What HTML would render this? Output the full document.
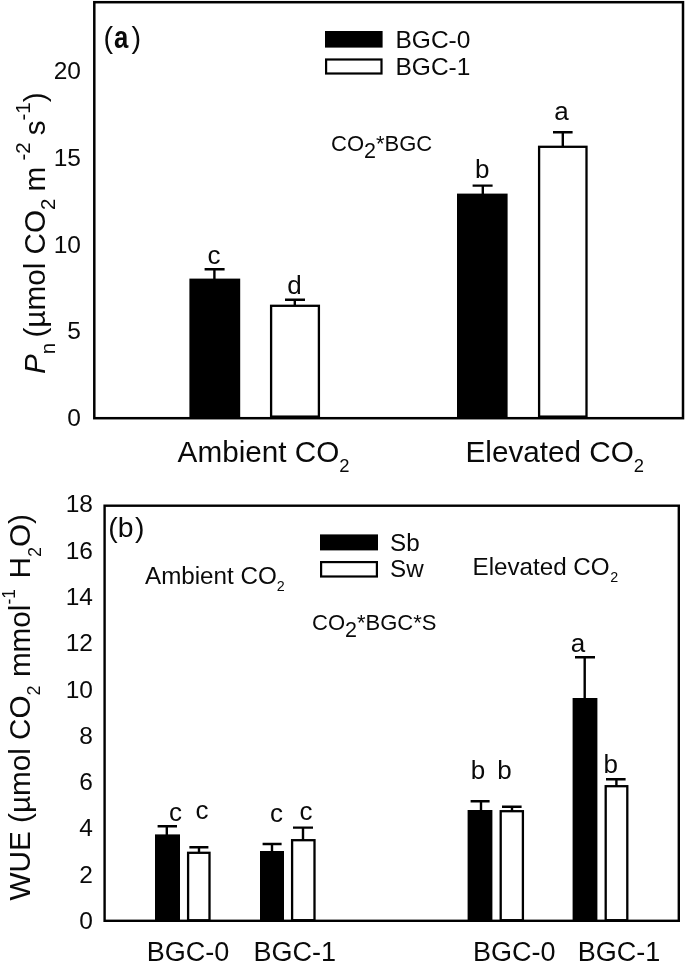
<!DOCTYPE html>
<html>
<head>
<meta charset="utf-8">
<title>Pn and WUE under ambient and elevated CO2</title>
<style>
html,body{margin:0;padding:0;background:#fff;}
body{width:685px;height:963px;overflow:hidden;}
svg{display:block;will-change:transform;filter:blur(0.45px);}
text{font-family:"Liberation Sans",Arial,Helvetica,sans-serif;fill:#0a0a0a;}
.tk{font-size:24.5px;text-anchor:end;}
.lt{font-size:26px;text-anchor:middle;}
.ax{font-size:29.7px;}
.lg{font-size:24.5px;}
.in{font-size:24.2px;}
.st{font-size:22px;}
.bx{font-size:27px;}
.k{fill:#000;stroke:none;}
.w{fill:#fff;stroke:#000;stroke-width:2.3;}
.l{stroke:#000;stroke-width:2.4;fill:none;}
</style>
</head>
<body>
<svg width="685" height="963" viewBox="0 0 685 963">
<rect x="0" y="0" width="685" height="963" fill="#fff"/>

<!-- ================= panel (a) ================= -->
<g id="pa">
<!-- bars -->
<rect class="k" x="189.4" y="278.6" width="50.8" height="140"/>
<rect class="w" x="271.1" y="305.8" width="47.8" height="110.8"/>
<rect class="k" x="457" y="193.6" width="50.6" height="225"/>
<rect class="w" x="539.1" y="146.8" width="47.4" height="269.8"/>
<!-- error bars -->
<path class="l" d="M204.6 269.3H224.6M214.4 269.3V280"/>
<path class="l" d="M285 299.8H305M294.8 299.8V305"/>
<path class="l" d="M472.6 185.6H492.6M482.8 185.6V195"/>
<path class="l" d="M553 132.2H572.6M562.8 132.2V146"/>
<!-- frame -->
<rect x="94.3" y="2.2" width="588.7" height="416" fill="none" stroke="#000" stroke-width="2.5"/>
<!-- tick labels -->
<text class="tk" x="81" y="79">20</text>
<text class="tk" x="81" y="165.7">15</text>
<text class="tk" x="81" y="252.5">10</text>
<text class="tk" x="81" y="339.2">5</text>
<text class="tk" x="81" y="426">0</text>
<!-- panel tag -->
<text x="103.6" y="47.7" font-size="28.8">(</text><text transform="translate(114.1 47.9) scale(0.92 1.12)" font-size="28" font-weight="bold">a</text><text x="131.4" y="47.7" font-size="28.8">)</text>
<!-- letters -->
<text class="lt" x="214" y="264.2">c</text>
<text class="lt" x="294.6" y="294.3">d</text>
<text class="lt" x="482.3" y="178">b</text>
<text class="lt" x="561.4" y="119.7">a</text>
<!-- legend -->
<rect class="k" x="325" y="31" width="57.6" height="16.6"/>
<rect class="w" x="326.1" y="59.5" width="55.4" height="14" style="stroke-width:2.2"/>
<text class="lg" x="395.5" y="47.5">BGC-0</text>
<text class="lg" x="395.5" y="74.5">BGC-1</text>
<!-- stat text -->
<text class="st" x="331" y="151">CO<tspan font-size="21.5" dy="6.6">2</tspan><tspan dy="-6.6">*BGC</tspan></text>
<!-- x labels -->
<text class="ax" x="177.6" y="461.8">Ambient CO<tspan font-size="18.4" dy="10">2</tspan></text>
<text class="ax" x="465.5" y="461.8">Elevated CO<tspan font-size="18.4" dy="10">2</tspan></text>
<!-- y label -->
<text class="ax" transform="translate(44.9 374) rotate(-90)"><tspan font-style="italic">P</tspan><tspan font-size="20.5" dy="9.6">n</tspan><tspan dy="-9.6" dx="-3"> (µmol CO</tspan><tspan font-size="20.5" dy="9.6">2</tspan><tspan dy="-9.6" dx="-1.2"> m </tspan><tspan font-size="20.5" dy="-14.8" dx="-2">-2</tspan><tspan dy="14.8" dx="-1.3"> s</tspan><tspan font-size="20.5" dy="-14.8">-1</tspan><tspan dy="14.8">)</tspan></text>
</g>

<!-- ================= panel (b) ================= -->
<g id="pb">
<!-- bars -->
<rect class="k" x="155" y="834.4" width="25" height="87"/>
<rect class="w" x="188.1" y="852.8" width="21.4" height="67.5"/>
<rect class="k" x="260" y="851" width="24" height="70"/>
<rect class="w" x="292.1" y="840.2" width="22.4" height="80"/>
<rect class="k" x="467.6" y="810" width="24.8" height="111"/>
<rect class="w" x="500.7" y="811.2" width="22.2" height="109"/>
<rect class="k" x="572.6" y="698" width="24.8" height="223"/>
<rect class="w" x="605.7" y="786.2" width="21.6" height="134"/>
<!-- error bars -->
<path class="l" d="M157.6 826.3H177M166.8 826.3V836"/>
<path class="l" d="M189.4 847.2H208.4M199 847.2V852"/>
<path class="l" d="M262.6 844H281.6M272 844V852"/>
<path class="l" d="M293 827.6H313M303 827.6V840"/>
<path class="l" d="M470.6 801.2H489.6M481 801.2V811"/>
<path class="l" d="M502 806.7H521.6M512 806.7V811"/>
<path class="l" d="M575 657.3H595M584.7 657.3V699"/>
<path class="l" d="M606 779.2H625.6M616.4 779.2V786"/>
<!-- frame -->
<rect x="104.6" y="505.7" width="574.2" height="415.1" fill="none" stroke="#000" stroke-width="2.4"/>
<!-- tick labels -->
<text class="tk" x="93" y="512.3">18</text>
<text class="tk" x="93" y="558.6">16</text>
<text class="tk" x="93" y="604.9">14</text>
<text class="tk" x="93" y="651.2">12</text>
<text class="tk" x="93" y="697.5">10</text>
<text class="tk" x="93" y="743.8">8</text>
<text class="tk" x="93" y="790.1">6</text>
<text class="tk" x="93" y="836.4">4</text>
<text class="tk" x="93" y="882.7">2</text>
<text class="tk" x="93" y="929">0</text>
<!-- panel tag -->
<text x="108.2" y="537" font-size="28.4">(b<tspan dx="1.6">)</tspan></text>
<!-- letters -->
<text class="lt" x="175.6" y="821.4">c</text>
<text class="lt" x="202" y="819.4">c</text>
<text class="lt" x="276.5" y="822.2">c</text>
<text class="lt" x="306" y="819.8">c</text>
<text class="lt" x="478" y="779.3">b</text>
<text class="lt" x="504.4" y="779.3">b</text>
<text class="lt" x="578" y="652">a</text>
<text class="lt" x="610.8" y="772.7">b</text>
<!-- legend -->
<rect class="k" x="320" y="534.4" width="58" height="16"/>
<rect class="w" x="321.1" y="562.1" width="55.8" height="14.4" style="stroke-width:2.2"/>
<text class="in" x="390" y="551">Sb</text>
<text class="in" x="390" y="577.4">Sw</text>
<!-- stat text -->
<text class="st" x="312" y="629.6">CO<tspan font-size="21.5" dy="7.4">2</tspan><tspan dy="-7.4">*BGC*S</tspan></text>
<!-- in-panel labels -->
<text class="in" x="145" y="583.6">Ambient CO<tspan font-size="14.3" dy="7">2</tspan></text>
<text class="in" x="472.5" y="575">Elevated CO<tspan font-size="14.3" dy="7.4" dx="0.5">2</tspan></text>
<!-- x labels -->
<text class="bx" x="146.8" y="961.2">BGC-0</text>
<text class="bx" x="253.4" y="961.2">BGC-1</text>
<text class="bx" x="473" y="961.2">BGC-0</text>
<text class="bx" x="577.8" y="961.2">BGC-1</text>
<!-- y label -->
<text class="ax" transform="translate(30.2 900.5) rotate(-90)">WUE (µmol CO<tspan font-size="18" dy="9.8">2</tspan><tspan dy="-9.8"> mmol</tspan><tspan font-size="17.5" dy="-15">-1</tspan><tspan dy="15" dx="2.3"> H</tspan><tspan font-size="18" dy="10.5">2</tspan><tspan dy="-10.5">O)</tspan></text>
</g>
</svg>
</body>
</html>
